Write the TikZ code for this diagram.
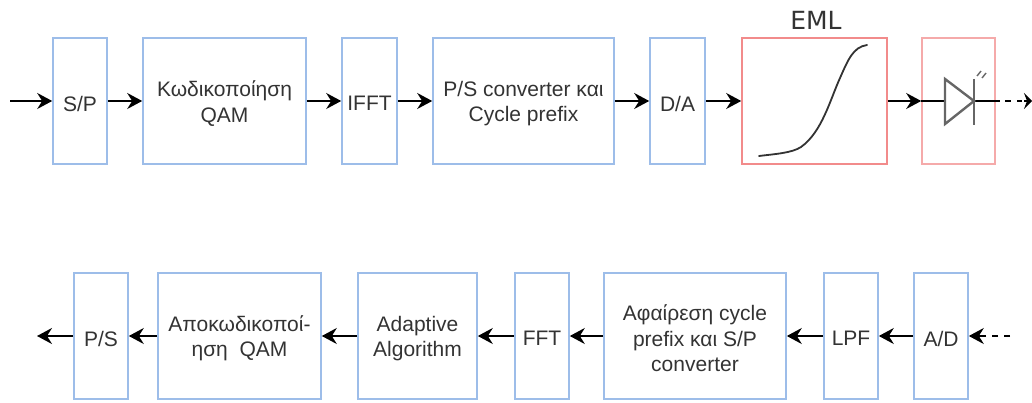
\documentclass[tikz,border=0pt]{standalone}
\usepackage{fontspec}
\setmainfont{Liberation Sans}
\newfontfamily\emlfont{DejaVu Sans}
\usetikzlibrary{arrows.meta}
\definecolor{boxblue}{HTML}{9DBDE9}
\definecolor{boxred}{HTML}{F28B8B}
\definecolor{boxpink}{HTML}{F5AAAA}
\definecolor{txt}{HTML}{333333}
\tikzset{
  x=1pt,y=-1pt,
  blk/.style={draw=boxblue,line width=1.6pt,align=center,text=txt,inner sep=0pt,
    font=\fontsize{21}{25.5}\selectfont},
  arr/.style={black,line width=1.8pt,-{Stealth[length=15pt,width=16pt,inset=5pt]}},
  plainln/.style={black,line width=1.8pt},
  dashln/.style={black,line width=1.8pt,dash pattern=on 6pt off 6pt},
  device/.style={black!60,line width=2.4pt},
}
\newcommand{\lbl}[1]{\raisebox{-2.5pt}[\height][\depth]{#1}}
\newcommand{\blkat}[7][]{% options, name, x1, x2, y1, y2, text
  \node[blk,#1,minimum width=#4pt-#3pt,minimum height=#6pt-#5pt] (#2) at ({(#3+#4)/2},{(#5+#6)/2}) {#7};}
\begin{document}
\begin{tikzpicture}
\useasboundingbox (0,0) rectangle (1032,403);
% top row
\blkat{sp}{53}{107}{38}{164}{\lbl{S/P}}
\blkat{qam}{143}{306}{38}{164}{\lbl{Κωδικοποίηση}\\\lbl{QAM}}
\blkat{ifft}{342}{397}{38}{164}{\lbl{IFFT}}
\blkat{ps}{433}{614}{38}{164}{\lbl{P/S converter και}\\\lbl{Cycle prefix}}
\blkat{da}{650}{705}{38}{164}{\lbl{D/A}}
\blkat[draw=boxred]{eml}{742}{887}{38}{164}{}
\blkat[draw=boxpink]{led}{922}{995}{38}{164}{}
\node[font=\emlfont\fontsize{25}{28}\selectfont,text=txt] (emltitle) at (816,20) {EML};
% EML curve
\draw[black!80,line width=1.8pt,line cap=round]
  (759,156) .. controls (775,154) and (792,153) .. (801,147)
  .. controls (822,132) and (830,100) .. (840,78)
  .. controls (848,60) and (853,47) .. (867,45);
% LED
\coordinate (ledin) at (led.west);
\coordinate (ledout) at (1000,101);
\coordinate (ledend) at (1032,101);
\coordinate (ledtip) at (974,101);
\coordinate (ledbase) at (945,101);
\draw[plainln] (ledin) -- (ledbase);
\draw[plainln] (ledtip) -- (ledout);
\draw[dashln] (ledout) ++(5,0) -- (1022,101);
\draw[device,line join=miter] (945,79) -- (ledtip) -- (945,124) -- cycle;
\draw[device] (974,79) -- (974,125);
\draw[black!60,line width=1.4pt] (977,76) -- (981,71) (982,78) -- (986,73);
\draw[black,line width=1.8pt,-{Stealth[length=8pt,width=16pt,inset=3pt]}] (1024,101) -- (ledend);
% top arrows
\coordinate (startT) at (10,101);
\draw[arr] (startT) -- (sp);
\draw[arr] (sp) -- (qam);
\draw[arr] (qam) -- (ifft);
\draw[arr] (ifft) -- (ps);
\draw[arr] (ps) -- (da);
\draw[arr] (da) -- (eml);
\draw[arr] (eml) -- (led);
% bottom row
\blkat{ps2}{74}{128}{273}{399}{\lbl{P/S}}
\blkat{dec}{158}{321}{273}{399}{\lbl{Αποκωδικοποί-}\\\lbl{ηση\ \ QAM}}
\blkat{adapt}{358}{477}{273}{399}{\lbl{Adaptive}\\\lbl{Algorithm}}
\blkat{fft}{515}{569}{273}{399}{\lbl{FFT}}
\blkat{rem}{604}{786}{273}{399}{\lbl{Αφαίρεση cycle}\\\lbl{prefix και S/P}\\\lbl{converter}}
\blkat{lpf}{824}{878}{273}{399}{\lbl{LPF}}
\blkat{ad}{914}{968}{273}{399}{\lbl{A/D}}
\coordinate (endB) at (37,336);
\coordinate (dashstart) at (1010,336);
\coordinate (dashmid) at (985,336);
\draw[arr] (ps2) -- (endB);
\draw[arr] (dec) -- (ps2);
\draw[arr] (adapt) -- (dec);
\draw[arr] (fft) -- (adapt);
\draw[arr] (rem) -- (fft);
\draw[arr] (lpf) -- (rem);
\draw[arr] (ad) -- (lpf);
\draw[dashln] (dashstart) -- (dashmid);
\draw[arr] (dashmid) -- (ad);
\end{tikzpicture}
\end{document}
